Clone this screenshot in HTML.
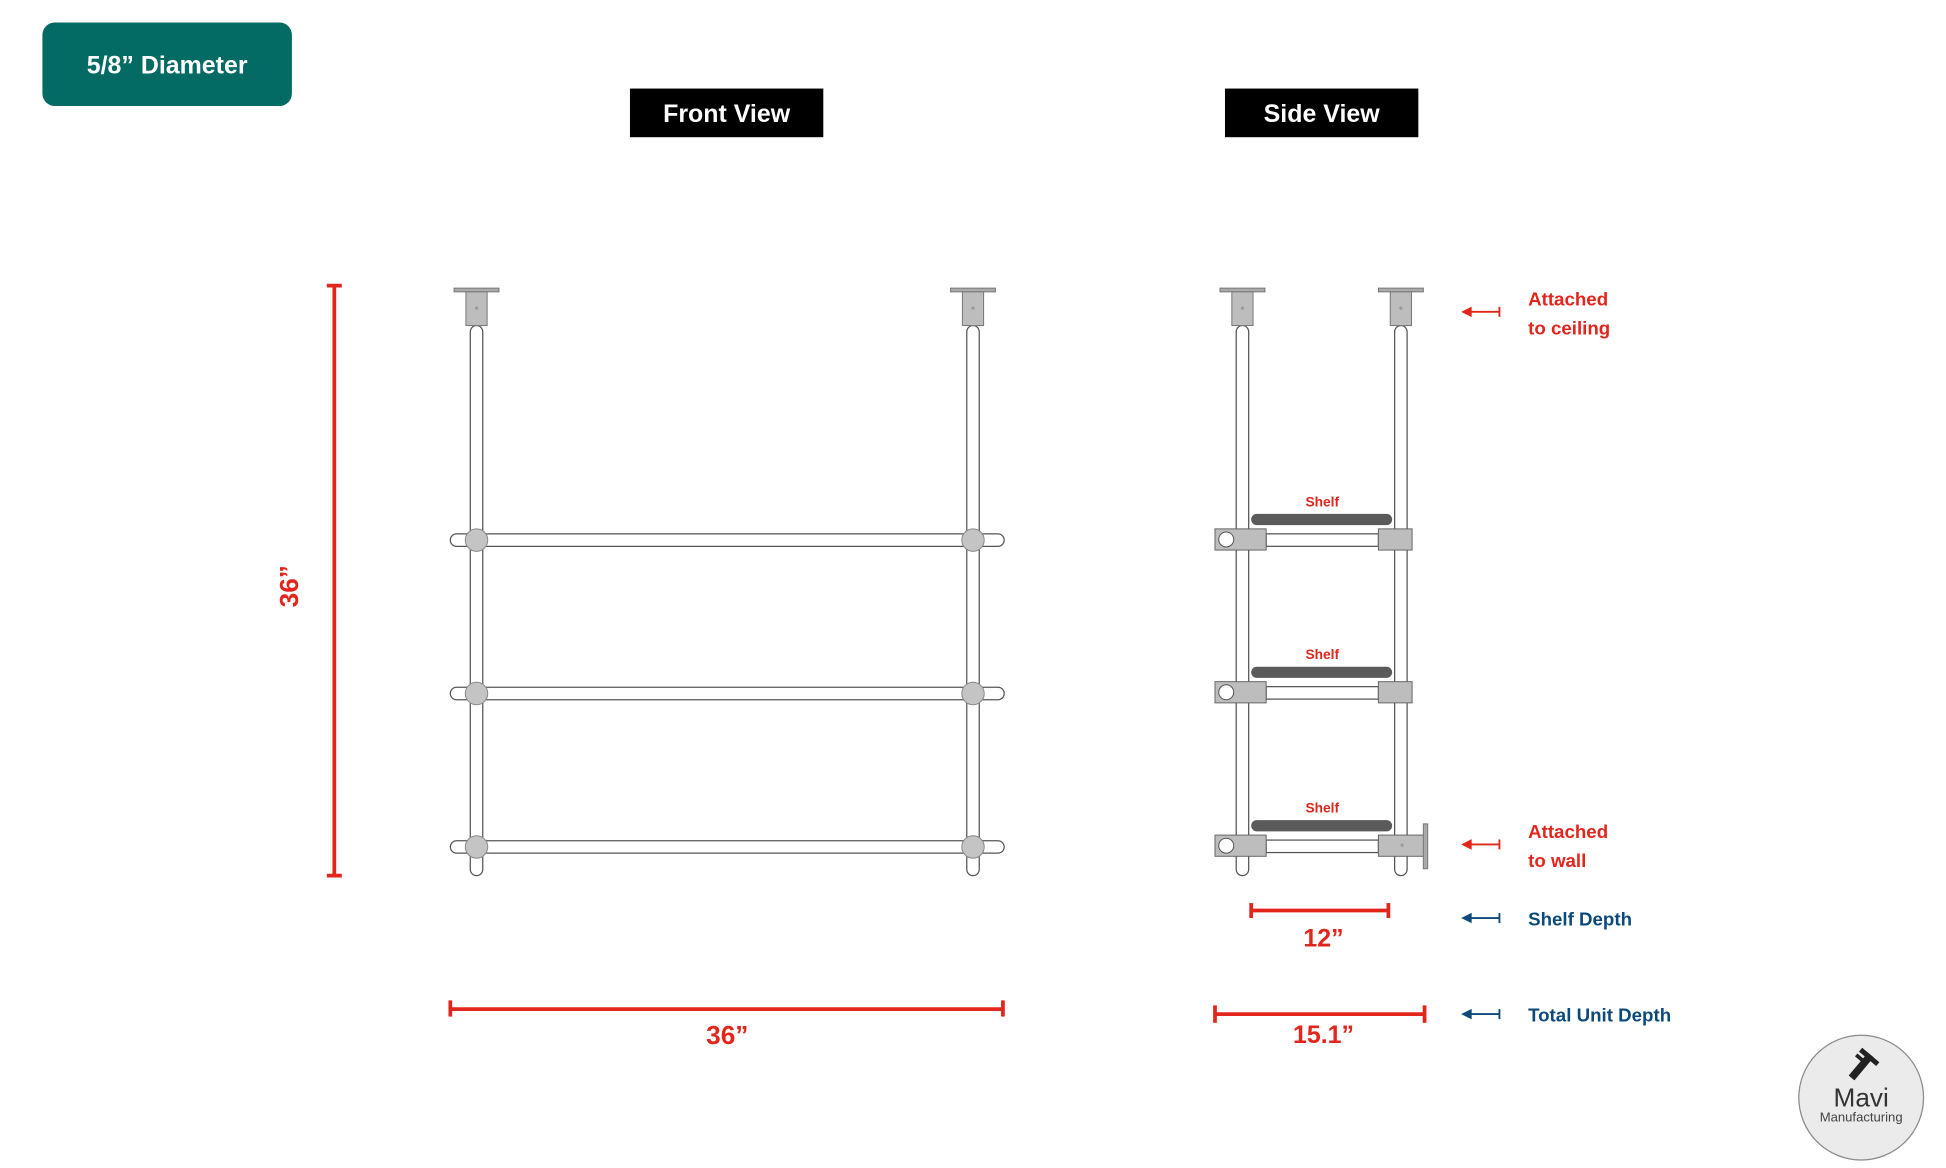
<!DOCTYPE html>
<html><head><meta charset="utf-8"><style>
html,body{margin:0;padding:0;background:#fff;}
svg{display:block;}
text{font-family:"Liberation Sans",sans-serif;font-weight:bold;}
</style></head><body>
<svg width="1946" height="1168" viewBox="0 0 1560 936.4" preserveAspectRatio="none" xmlns="http://www.w3.org/2000/svg">
<defs>
<g id="plate">
<rect x="-18" y="231" width="36" height="3" fill="#aaa" stroke="#777" stroke-width="0.8"/>
<rect x="-8.5" y="234" width="17" height="27" fill="#bdbdbd" stroke="#777" stroke-width="0.8"/>
<circle cx="0" cy="247" r="1.3" fill="#999"/>
</g>
<g id="pole">
<rect x="-5" y="261" width="10" height="441" rx="5" fill="#fff" stroke="#555" stroke-width="1"/>
</g>
</defs>
<!-- badge -->
<rect x="34" y="18" width="200" height="67" rx="10" fill="#036b63"/>
<text x="134" y="59" font-size="20" fill="#fff" text-anchor="middle">5/8” Diameter</text>
<rect x="505" y="71" width="155" height="39" fill="#000"/>
<text x="582.5" y="98" font-size="20" fill="#fff" text-anchor="middle">Front View</text>
<rect x="982" y="71" width="155" height="39" fill="#000"/>
<text x="1059.5" y="98" font-size="20" fill="#fff" text-anchor="middle">Side View</text>

<!-- FRONT VIEW -->
<use href="#pole" x="382"/><use href="#pole" x="780"/>
<use href="#plate" x="382"/><use href="#plate" x="780"/>
<g fill="#fff" stroke="#555" stroke-width="1">
<rect x="361" y="428" width="444" height="10" rx="5"/>
<rect x="361" y="551" width="444" height="10" rx="5"/>
<rect x="361" y="674" width="444" height="10" rx="5"/>
</g>
<g fill="#c4c4c4" stroke="#888" stroke-width="0.8">
<circle cx="382" cy="433" r="9"/><circle cx="780" cy="433" r="9"/>
<circle cx="382" cy="556" r="9"/><circle cx="780" cy="556" r="9"/>
<circle cx="382" cy="679" r="9"/><circle cx="780" cy="679" r="9"/>
</g>
<!-- front dims -->
<g stroke="#e3261c" stroke-width="3" fill="none">
<line x1="268" y1="229" x2="268" y2="702"/><line x1="262" y1="229" x2="274" y2="229"/><line x1="262" y1="702" x2="274" y2="702"/>
<line x1="361" y1="809" x2="804" y2="809"/><line x1="361" y1="802" x2="361" y2="815"/><line x1="804" y1="802" x2="804" y2="815"/>
</g>
<text x="0" y="0" font-size="21" fill="#e3261c" text-anchor="middle" transform="translate(239,470) rotate(-90)">36”</text>
<text x="583" y="837" font-size="21" fill="#e3261c" text-anchor="middle">36”</text>

<!-- SIDE VIEW -->
<use href="#pole" x="996"/><use href="#pole" x="1123"/>
<use href="#plate" x="996"/><use href="#plate" x="1123"/>
<g id="shelf1">
<rect x="1003" y="412" width="113" height="9" rx="4.5" fill="#5a5a5a"/>
<rect x="1015" y="428" width="90" height="10" fill="#fff" stroke="#555" stroke-width="1"/>
<rect x="974" y="424" width="41" height="17" fill="#bdbdbd" stroke="#666" stroke-width="0.8"/>
<circle cx="983" cy="432.5" r="6" fill="#fff" stroke="#555" stroke-width="0.8"/>
<rect x="1105" y="424" width="27" height="17" fill="#bdbdbd" stroke="#666" stroke-width="0.8"/>
<text x="1060" y="406" font-size="11" fill="#e3261c" text-anchor="middle">Shelf</text>
</g>
<use href="#shelf1" y="122.5"/>
<g transform="translate(0,245.5)">
<rect x="1003" y="412" width="113" height="9" rx="4.5" fill="#5a5a5a"/>
<rect x="1015" y="428" width="90" height="10" fill="#fff" stroke="#555" stroke-width="1"/>
<rect x="974" y="424" width="41" height="17" fill="#bdbdbd" stroke="#666" stroke-width="0.8"/>
<circle cx="983" cy="432.5" r="6" fill="#fff" stroke="#555" stroke-width="0.8"/>
<rect x="1105" y="424" width="37" height="17" fill="#bdbdbd" stroke="#666" stroke-width="0.8"/>
<circle cx="1124" cy="432" r="1.3" fill="#999"/>
<rect x="1141" y="415" width="3.5" height="36" fill="#aaa" stroke="#777" stroke-width="0.8"/>
<text x="1060" y="406" font-size="11" fill="#e3261c" text-anchor="middle">Shelf</text>
</g>
<!-- side dims -->
<g stroke="#e3261c" stroke-width="3" fill="none">
<line x1="1003" y1="730" x2="1113" y2="730"/><line x1="1003" y1="724" x2="1003" y2="736"/><line x1="1113" y1="724" x2="1113" y2="736"/>
<line x1="974" y1="813" x2="1142" y2="813"/><line x1="974" y1="806" x2="974" y2="820"/><line x1="1142" y1="806" x2="1142" y2="820"/>
</g>
<text x="1061" y="759" font-size="20" fill="#e3261c" text-anchor="middle">12”</text>
<text x="1061" y="836" font-size="20" fill="#e3261c" text-anchor="middle">15.1”</text>
<!-- arrows -->
<g stroke="#e3261c" stroke-width="1.5" fill="#e3261c">
<line x1="1176" y1="250" x2="1202" y2="250"/><line x1="1202" y1="246" x2="1202" y2="254"/><path d="M1173 250 l6 -3 v6z"/>
<line x1="1176" y1="677" x2="1202" y2="677"/><line x1="1202" y1="673" x2="1202" y2="681"/><path d="M1173 677 l6 -3 v6z"/>
</g>
<g stroke="#0d4a7c" stroke-width="1.5" fill="#0d4a7c">
<line x1="1176" y1="736" x2="1202" y2="736"/><line x1="1202" y1="732" x2="1202" y2="740"/><path d="M1173 736 l6 -3 v6z"/>
<line x1="1176" y1="813" x2="1202" y2="813"/><line x1="1202" y1="809" x2="1202" y2="817"/><path d="M1173 813 l6 -3 v6z"/>
</g>
<g font-size="15" fill="#e3261c">
<text x="1225" y="245">Attached</text><text x="1225" y="268">to ceiling</text>
<text x="1225" y="672">Attached</text><text x="1225" y="695">to wall</text>
</g>
<g font-size="15" fill="#0d4a7c">
<text x="1225" y="742">Shelf Depth</text><text x="1225" y="819">Total Unit Depth</text>
</g>
<!-- logo -->
<circle cx="1492" cy="880" r="50" fill="#ebebeb" stroke="#8a8a8a" stroke-width="1"/>
<g transform="translate(1492,855) rotate(40)" fill="#222">
<rect x="-3" y="-12" width="6" height="24"/><rect x="-9" y="-12" width="18" height="4"/><rect x="-9" y="-6" width="10" height="3"/>
</g>
<text x="1492" y="887" font-size="21" fill="#333" text-anchor="middle" style="font-weight:normal">Mavi</text>
<text x="1492" y="899" font-size="10.5" fill="#444" text-anchor="middle" style="font-weight:normal">Manufacturing</text>
</svg>
</body></html>
